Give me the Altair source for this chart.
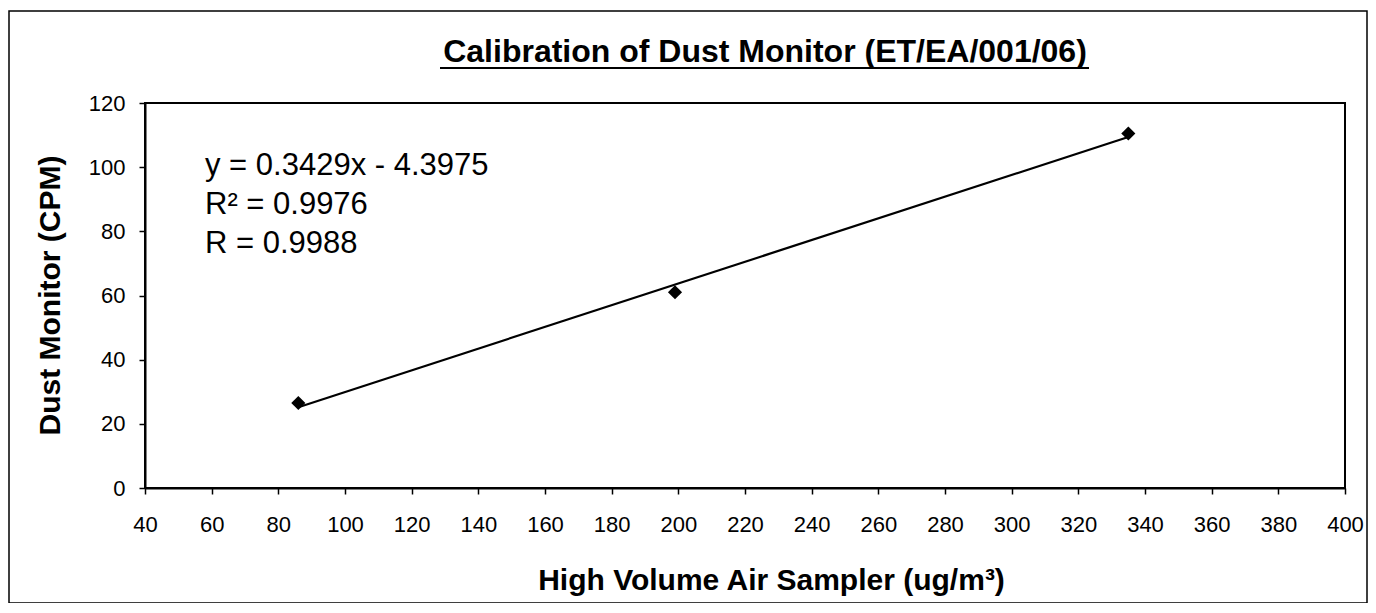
import altair as alt
import pandas as pd

# Data
sampler_x = [86, 199, 335]          # High Volume Air Sampler (ug/m3)
monitor_y = [26.5, 61, 110.5]       # Dust Monitor (CPM)
x_ticks = list(range(40, 401, 20))
y_ticks = list(range(0, 121, 20))
title_text = "Calibration of Dust Monitor (ET/EA/001/06)"
x_title = "High Volume Air Sampler (ug/m³)"
y_title = "Dust Monitor (CPM)"
eq_lines = ["y = 0.3429x - 4.3975", "R² = 0.9976", "R = 0.9988"]

FONT = "Liberation Sans"
df = pd.DataFrame({"x": sampler_x, "y": monitor_y})

xs = alt.Scale(domain=[40, 400], nice=False, zero=False)
ys = alt.Scale(domain=[0, 120], nice=False)

xax = alt.Axis(values=x_ticks, title=x_title, titleFont=FONT, titleFontSize=30,
               titleFontWeight="bold", titleX=626, titleY=92, titleBaseline="middle",
               titleAlign="center", labelPadding=20, labelFlush=False, grid=False)
yax = alt.Axis(values=y_ticks, title=y_title, titleFont=FONT, titleFontSize=30,
               titleFontWeight="bold", titleX=-95, titleY=192, titleBaseline="middle",
               titleAlign="center", titleAngle=270, labelPadding=14, labelFlush=False, grid=False)

base = alt.Chart(df)

points = base.mark_point(shape="diamond", filled=True, color="black", size=200, opacity=1).encode(
    x=alt.X("x:Q", scale=xs, axis=xax),
    y=alt.Y("y:Q", scale=ys, axis=yax),
)

trend = base.transform_regression("x", "y").mark_line(color="black", strokeWidth=2.2).encode(
    x=alt.X("x:Q", scale=xs),
    y=alt.Y("y:Q", scale=ys),
)

eq = alt.Chart(pd.DataFrame({"t": ["\n".join(eq_lines)]})).mark_text(
    font=FONT, fontSize=31, align="left", baseline="top", lineBreak="\n",
    lineHeight=39, color="black"
).encode(text="t:N", x=alt.value(60), y=alt.value(48))

title = alt.Chart(pd.DataFrame({"t": [title_text]})).mark_text(
    font=FONT, fontSize=32, fontWeight="bold", align="center", baseline="alphabetic",
    color="black"
).encode(text="t:N", x=alt.value(620), y=alt.value(-41))

underline = alt.Chart(pd.DataFrame({"u": [0]})).mark_rule(color="black", strokeWidth=2).encode(
    x=alt.value(295), x2=alt.value(944), y=alt.value(-35)
)

border = alt.Chart(pd.DataFrame({"b": [0]})).mark_rect(
    fill=None, stroke="black", strokeWidth=1.5
).encode(x=alt.value(-136), x2=alt.value(1222), y=alt.value(-92), y2=alt.value(500))

chart = alt.layer(border, trend, points, eq, title, underline).properties(
    width=1200, height=385,
    autosize=alt.AutoSizeParams(type="none"),
    padding={"left": 137, "top": 95, "right": 23, "bottom": 115},
).configure_view(stroke="black", strokeWidth=2).configure_axis(
    labelFont=FONT, labelFontSize=22, labelColor="black", domainColor="black",
    domainWidth=2, tickColor="black", tickSize=6, tickWidth=1.5, titleColor="black"
)

chart.save("out.html", embed_options={"renderer": "svg", "actions": False})
